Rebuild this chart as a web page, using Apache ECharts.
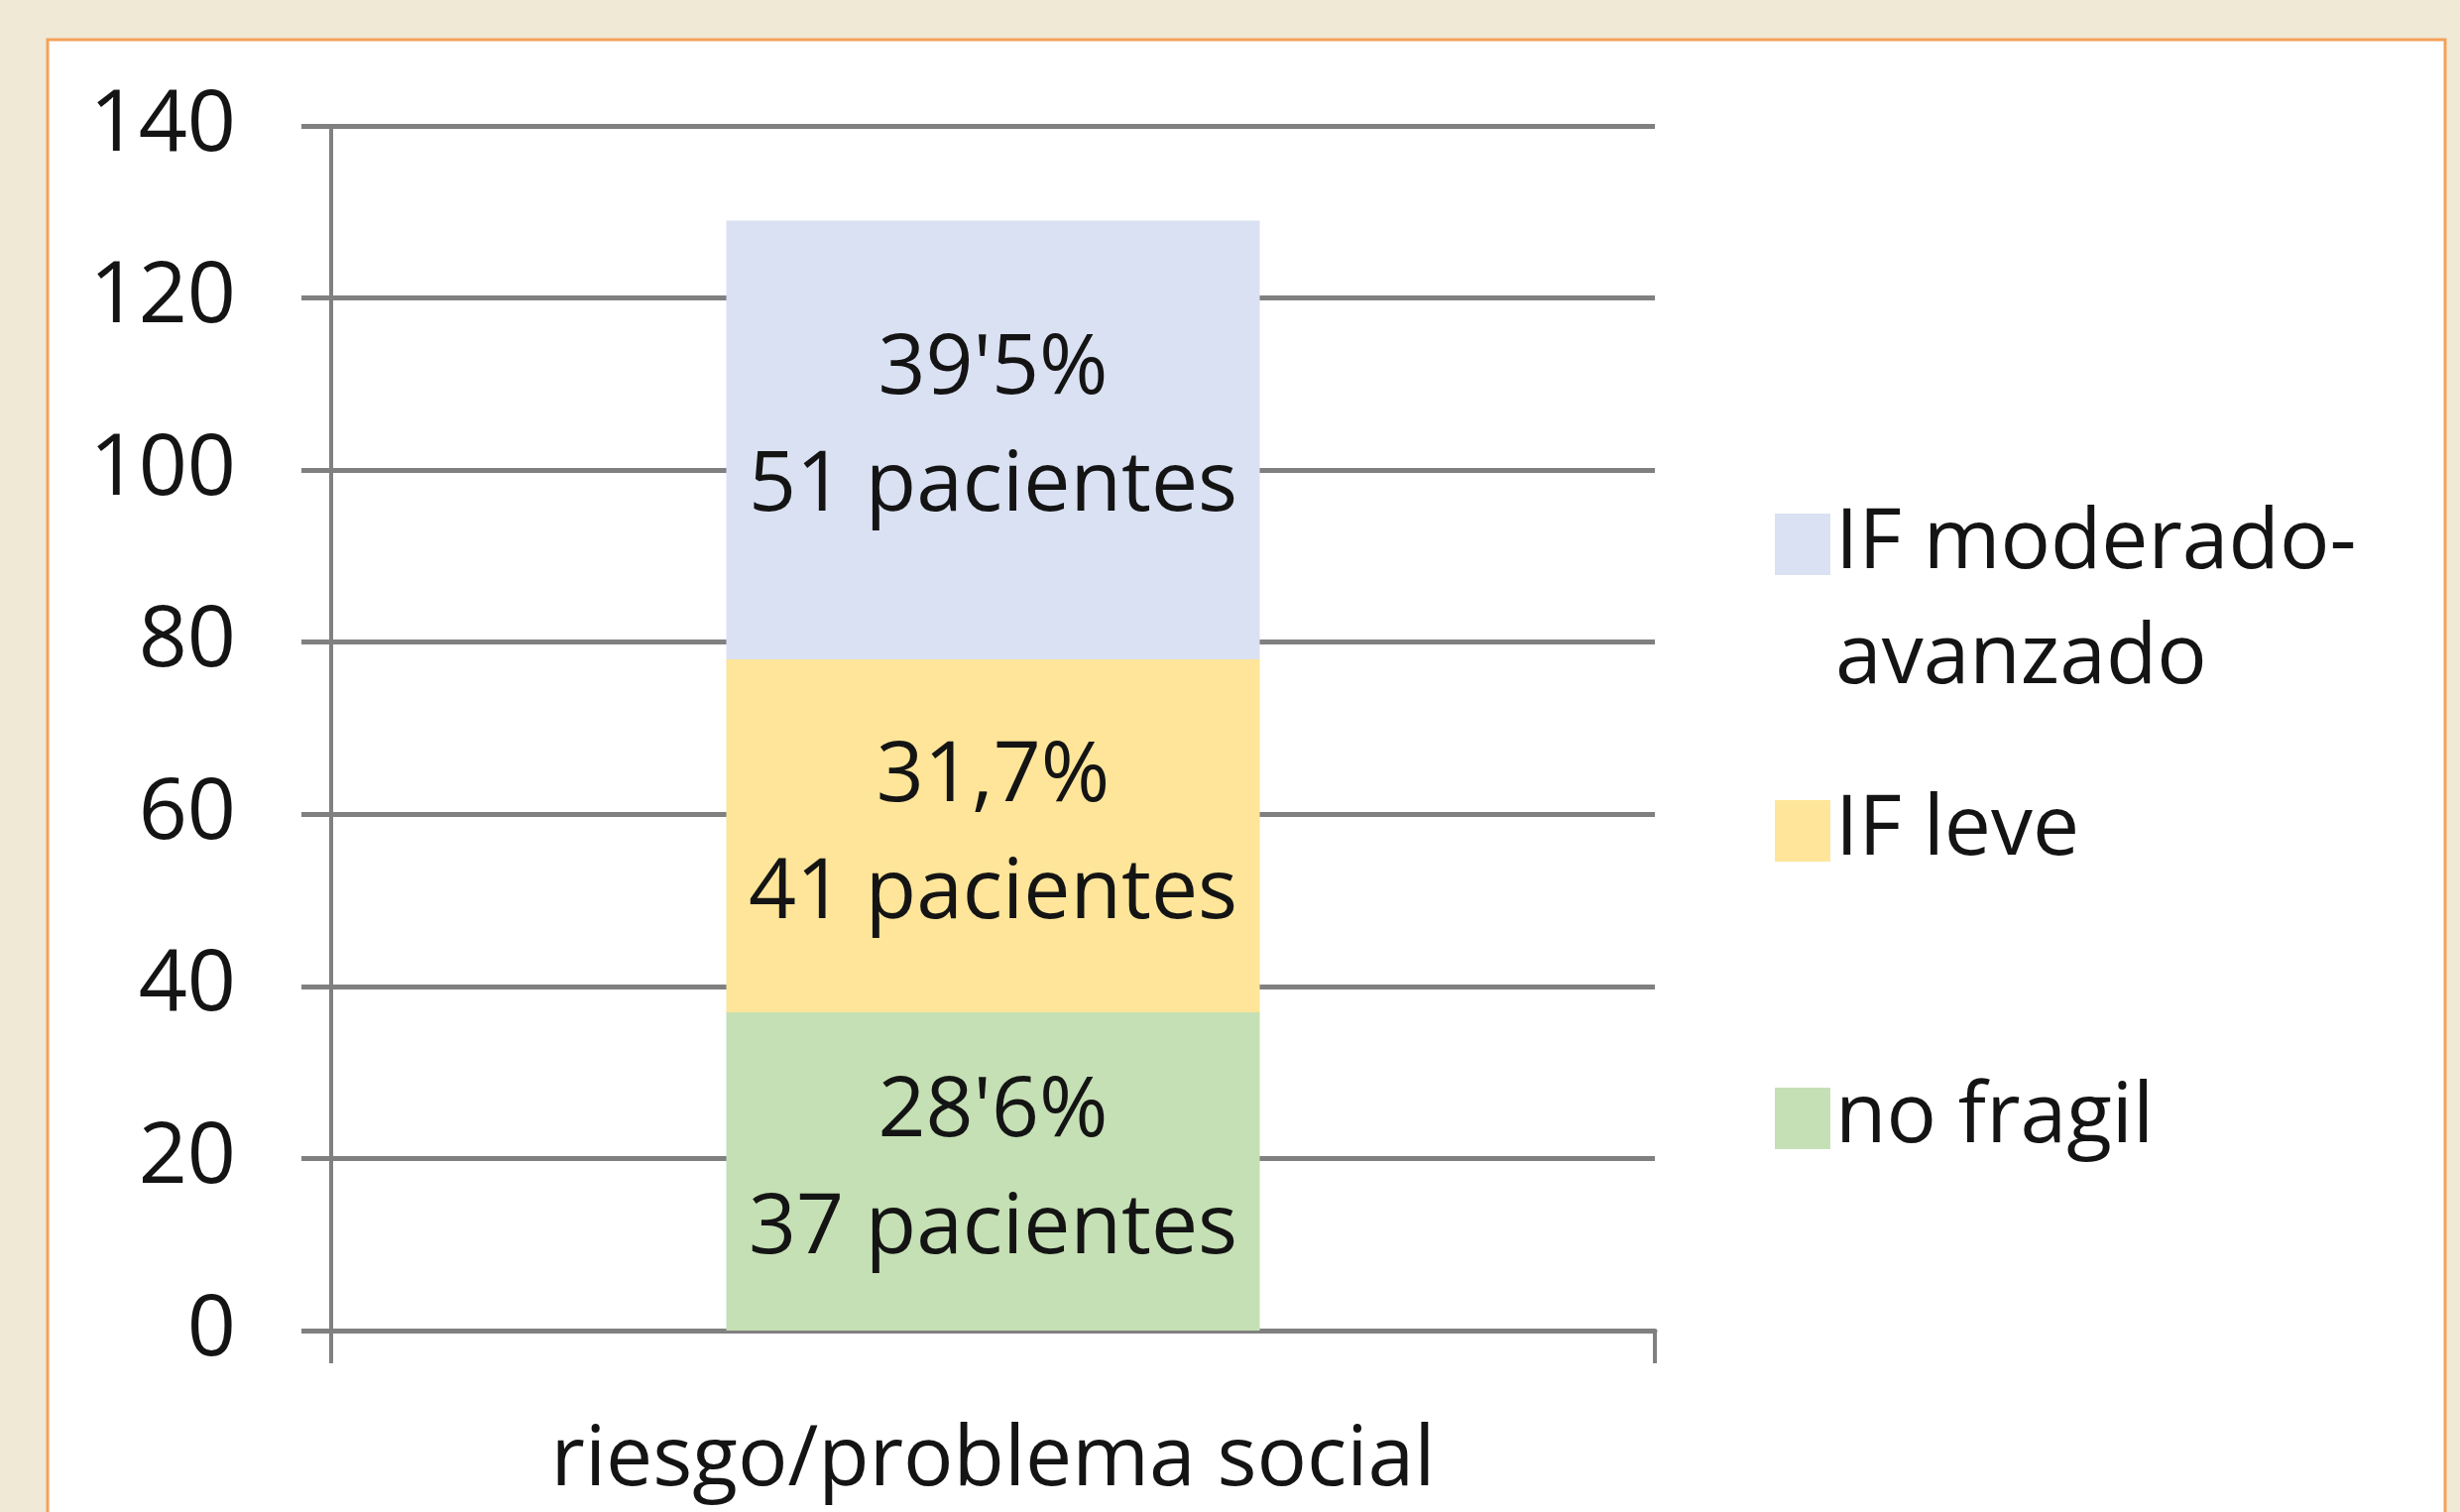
<!DOCTYPE html>
<html>
<head>
<meta charset="utf-8">
<script src="https://cdn.jsdelivr.net/npm/echarts@6/dist/echarts.min.js"></script>
<style>
html,body{margin:0;padding:0;background:#efe9d6;}
#c{width:2481px;height:1525px;}
</style>
</head>
<body>
<div id="c"></div>
<script>
// ---- data ----
const categories = ['riesgo/problema social'];
const seriesNames = ['no fragil', 'IF leve', 'IF moderado-avanzado'];
const noFragil = [37];
const ifLeve = [41];
const ifModerado = [51];
const pctLabels = ["28'6%", "31,7%", "39'5%"];
const yMin = 0, yMax = 140, yInterval = 20;
// leading blank line keeps the legend square aligned with the first text line
const legendTexts = {'IF moderado-avanzado': '\nIF moderado-\navanzado', 'IF leve': 'IF leve', 'no fragil': 'no fragil'};

const colors = ['#c5e0b4', '#fee599', '#d9e1f2'];
const FONT = '"Open Sans", sans-serif';
const TXT = '#141414';
const AX = '#808080';

const chart = echarts.init(document.getElementById('c'), null, {renderer: 'canvas'});

function mkSeries(name, data, idx, offset) {
  return {
    name: name,
    type: 'bar',
    stack: 'total',
    data: data,
    barWidth: '40.3%',
    itemStyle: {color: colors[idx]},
    label: {
      show: true,
      position: 'inside',
      offset: offset || [0, 0],
      fontFamily: FONT,
      fontSize: 84,
      lineHeight: 118,
      color: TXT,
      formatter: function (p) { return pctLabels[idx] + '\n' + p.value + ' pacientes'; }
    },
    emphasis: {disabled: true}
  };
}

function mkLegend(name, top) {
  return {
    data: [name],
    orient: 'vertical',
    left: 1785,
    top: top,
    itemWidth: 56,
    itemHeight: 62,
    itemGap: 0,
    icon: 'rect',
    selectedMode: false,
    formatter: function (n) { return legendTexts[n]; },
    textStyle: {
      fontFamily: FONT,
      fontSize: 84,
      lineHeight: 116,
      color: TXT
    }
  };
}

chart.setOption({
  backgroundColor: '#efe9d6',
  animation: false,
  graphic: [{
    type: 'rect',
    z: -10,
    shape: {x: 48, y: 40, width: 2418, height: 1520},
    style: {fill: '#ffffff', stroke: '#f5a15a', lineWidth: 3}
  }],
  grid: {left: 334, top: 127, width: 1335, height: 1215, containLabel: false},
  legend: [
    mkLegend(seriesNames[2], 370),
    mkLegend(seriesNames[1], 775),
    mkLegend(seriesNames[0], 1065)
  ],
  xAxis: {
    type: 'category',
    data: categories,
    boundaryGap: true,
    axisLine: {show: true, lineStyle: {color: AX, width: 5}},
    axisTick: {show: true, length: 33, lineStyle: {color: AX, width: 4}},
    axisLabel: {fontFamily: FONT, fontSize: 84, color: TXT, margin: 90}
  },
  yAxis: {
    type: 'value',
    min: yMin,
    max: yMax,
    interval: yInterval,
    axisLine: {show: true, lineStyle: {color: AX, width: 4}},
    axisTick: {show: true, length: 30, inside: false, lineStyle: {color: AX, width: 5}},
    splitLine: {show: true, lineStyle: {color: AX, width: 5}},
    axisLabel: {fontFamily: FONT, fontSize: 86, color: TXT, margin: 96}
  },
  series: [
    mkSeries(seriesNames[0], noFragil, 0),
    mkSeries(seriesNames[1], ifLeve, 1),
    mkSeries(seriesNames[2], ifModerado, 2, [0, -12])
  ]
});
</script>
</body>
</html>
